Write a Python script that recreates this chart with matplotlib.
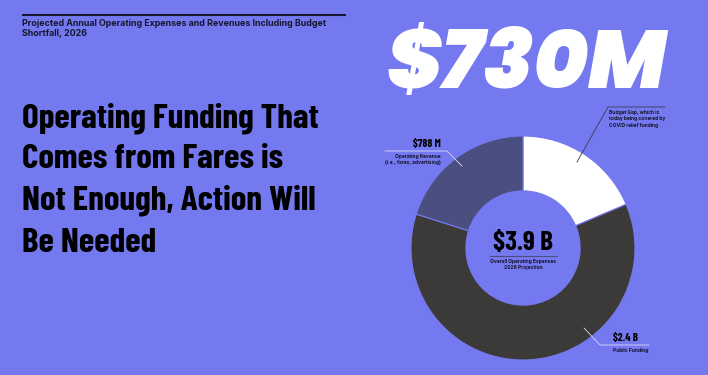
import matplotlib
matplotlib.use('Agg')
import matplotlib.pyplot as plt
from matplotlib import font_manager

# data
segments = ['Budget Gap', 'Public Funding', 'Operating Revenue']
values_m = [730, 2400, 788]
seg_colors = ['#ffffff', '#3c3a39', '#4a4f80']
value_labels = ['$730M', '$2.4 B', '$788 M']
total_label = '$3.9 B'
seg_notes = ['Budget Gap, which is\ntoday being covered by\nCOVID relief funding',
             'Public Funding',
             'Operating Revenue\n(i.e., fares, advertising)']
total_note = 'Overall Operating Expenses\n2026 Projection'
subtitle = 'Projected Annual Operating Expenses and Revenues Including Budget\nShortfall, 2026'
headline = ['Operating Funding That', 'Comes from Fares is',
            'Not Enough, Action Will', 'Be Needed']

BG = '#7579f0'
INK = '#16162e'

fonts = font_manager.fontManager.ttflist


def pick(cands, italic=False):
    # first (family, min weight) that has a matching face
    for c, min_weight in cands:
        for f in fonts:
            if f.name != c:
                continue
            w = f.weight if isinstance(f.weight, int) else 700 if 'bold' in str(f.weight) else 400
            if w >= min_weight and (not italic or f.style in ('italic', 'oblique')):
                return c
    return 'DejaVu Sans'


narrow = pick([('Barlow Condensed', 600), ('Roboto Condensed', 600), ('Fjalla One', 0)])
wide = pick([('Montserrat', 800), ('Poppins', 800), ('Work Sans', 800),
             ('DejaVu Sans', 600)], True)
grot = pick([('Inter', 600), ('Work Sans', 600), ('Liberation Sans', 600)])

W, H = 708, 375
fig = plt.figure(figsize=(W / 100, H / 100), dpi=100, facecolor=BG)
renderer = fig.canvas.get_renderer()


def fit(t, width):
    # scale font size so the text spans the wanted pixel width
    bb = t.get_window_extent(renderer)
    t.set_fontsize(t.get_fontsize() * width / bb.width)
    return t.get_fontsize()


# donut
cx, cy, r = 523, 248, 112
pax = fig.add_axes([(cx - r) / W, (H - cy - r) / H, 2 * r / W, 2 * r / H])
pax.pie(values_m, colors=seg_colors, startangle=90, counterclock=False,
        radius=1, wedgeprops=dict(width=0.49, edgecolor=BG, linewidth=0.8))
pax.set_xlim(-1, 1)
pax.set_ylim(-1, 1)
pax.axis('off')

# overlay in pixel coordinates
ax = fig.add_axes([0, 0, 1, 1], zorder=5)
ax.set_xlim(0, W)
ax.set_ylim(H, 0)
ax.patch.set_alpha(0)
ax.axis('off')

# subtitle + rule
ax.plot([22, 346], [14.5, 14.5], color=INK, lw=1.5, solid_capstyle='butt')
sub = subtitle.split('\n')
t = ax.text(22, 26, sub[0], ha='left', va='baseline', fontsize=6, fontweight='bold',
            family=grot, color=INK)
fs = fit(t, 304)
ax.text(22, 36, sub[1], ha='left', va='baseline', fontsize=fs, fontweight='bold',
        family=grot, color=INK)

# headline
hl = []
for i, line in enumerate(headline):
    hl.append(ax.text(22, 127 + i * 41.5, line, ha='left', va='baseline', fontsize=24,
                      fontweight='bold', family=narrow, color='black'))
fs = fit(hl[0], 296)
for t in hl[1:]:
    t.set_fontsize(fs)

# big number
t = ax.text(386, 88, value_labels[0], ha='left', va='baseline', fontsize=52,
            fontweight='black', style='italic', family=wide, color='white')
fit(t, 280)

note_kw = dict(fontweight='bold', family=grot, color=INK, linespacing=1.35)
num_kw = dict(fontweight='bold', family=narrow, color='black', va='baseline')

# note size from the longest note line
probe = ax.text(0, -50, 'Overall Operating Expenses', fontsize=4, **note_kw)
nfs = fit(probe, 67)
probe.remove()

# budget gap callout
ax.plot([577, 608, 665], [162, 107, 107], color='#3a3a4a', lw=0.6)
ax.text(609, 110, seg_notes[0], ha='left', va='top', fontsize=nfs, **note_kw)

# operating revenue callout
ax.plot([385, 447, 462], [151, 151, 166], color='#d8d8f0', lw=0.6)
t = ax.text(441, 147, value_labels[2], ha='right', fontsize=8.5, **num_kw)
fit(t, 28)
ax.text(441, 154, seg_notes[2], ha='right', va='top', fontsize=nfs,
        multialignment='right', **note_kw)

# public funding callout
ax.plot([584, 600, 649], [328, 345, 345], color='#d8d8f0', lw=0.6)
t = ax.text(613, 341, value_labels[1], ha='left', fontsize=8.5, **num_kw)
fit(t, 25)
ax.text(613, 348, seg_notes[1], ha='left', va='top', fontsize=nfs, **note_kw)

# total in the hole
t = ax.text(cx, 250, total_label, ha='center', fontsize=17, **num_kw)
fit(t, 60)
ax.plot([490, 557], [256, 256], color='#4a4f80', lw=0.8)
ax.text(cx, 259, total_note, ha='center', va='top', multialignment='center',
        fontsize=nfs, **note_kw)

fig.savefig('out.png', dpi=100, facecolor=BG)
